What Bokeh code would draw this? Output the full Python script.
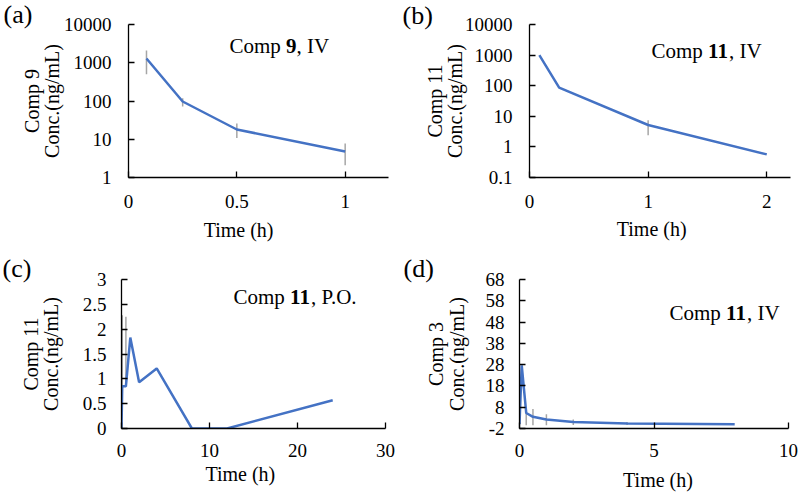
import math
from bokeh.plotting import figure
from bokeh.layouts import column, row
from bokeh.models import (Range1d, FixedTicker, CustomJSTickFormatter, Label, Title,
                          LinearAxis)
from bokeh.embed import file_html
from bokeh.resources import INLINE

# ---------------- data ----------------
a_time = [0.083, 0.25, 0.5, 1.0]
a_conc = [1290, 97, 18, 4.8]
a_hi = [2100, 118, 26, 7.7]
a_lo = [500, 72, 10.8, 2.1]
a_xticks = [0, 0.5, 1]
a_yticks = [1, 10, 100, 1000, 10000]

b_time = [0.083, 0.25, 1.0, 2.0]
b_conc = [1000, 87, 5.2, 0.57]
b_hi = [1000, 87, 7.4, 0.57]
b_lo = [1000, 87, 2.4, 0.57]
b_xticks = [0, 1, 2]
b_yticks = [0.1, 1, 10, 100, 1000, 10000]

c_time = [0, 0.083, 0.5, 1, 2, 4, 8, 12, 24]
c_conc = [0, 0.85, 0.85, 1.83, 0.93, 1.21, 0, 0, 0.57]
c_hi = [0, 2.28, 2.25, 1.83, 0.93, 1.21, 0, 0, 0.57]
c_lo = [0, 0.85, 0.85, 1.83, 0.93, 1.21, 0, 0, 0.57]
c_xticks = [0, 10, 20, 30]
c_yticks = [0, 0.5, 1, 1.5, 2, 2.5, 3]

d_time = [0, 0.083, 0.25, 0.5, 1, 2, 4, 8]
d_conc = [0, 27.7, 5.3, 3.5, 2.2, 1.1, 0.4, 0.05]
d_hi = [0, 27.7, 5.6, 7.2, 4.7, 2.2, 1.0, 0.05]
d_lo = [0, 27.7, -0.5, -0.5, -0.5, -0.4, -0.3, 0.05]
d_xticks = [0, 5, 10]
d_yticks = [-2, 8, 18, 28, 38, 48, 58, 68]

X_TITLE = "Time (h)"

FONT = "Liberation Serif"
BLUE = "#4472C4"
GREY = "#A6A6A6"


def lab(p, text, x, y, size="21px", style="normal"):
    p.add_layout(Label(x=x, y=y, x_units="screen", y_units="screen", text=text,
                       text_font=FONT, text_font_size=size, text_font_style=style,
                       text_align="left", text_baseline="alphabetic",
                       text_color="black"))


def panel(bl, br, bt, bb, xr, yr, xt, yt, log, xstand, ystand, ylabel, ylstand):
    p = figure(width=400, height=247, min_border_left=bl, min_border_right=br,
               min_border_top=bt, min_border_bottom=bb,
               x_range=Range1d(*xr), y_range=Range1d(*yr),
               y_axis_type="log" if log else "linear",
               output_backend="svg", toolbar_location=None, tools="")
    p.xgrid.visible = False
    p.ygrid.visible = False
    p.outline_line_color = None
    p.background_fill_color = "white"
    p.border_fill_color = "white"
    for ax in (p.xaxis[0], p.yaxis[0]):
        ax.axis_line_color = "black"
        ax.axis_line_width = 1.3
        ax.major_tick_line_color = "black"
        ax.major_tick_line_width = 1.3
        ax.major_tick_in = 6
        ax.major_tick_out = 0
        ax.minor_tick_line_color = None
        ax.major_label_text_font = FONT
        ax.major_label_text_font_size = "19px"
        ax.major_label_text_color = "black"
        ax.formatter = CustomJSTickFormatter(code="return tick.toString();")
    p.xaxis[0].ticker = FixedTicker(ticks=xt)
    p.yaxis[0].ticker = FixedTicker(ticks=yt)
    p.xaxis[0].major_label_standoff = xstand
    p.yaxis[0].major_label_standoff = ystand
    ya = p.yaxis[0]
    ya.axis_label = ylabel
    ya.axis_label_text_font = FONT
    ya.axis_label_text_font_size = "20px"
    ya.axis_label_text_font_style = "normal"
    ya.axis_label_text_color = "black"
    ya.axis_label_text_line_height = 0.92
    ya.axis_label_standoff = ylstand
    return p


def draw(p, t, c, hi, lo):
    p.segment(x0=t, y0=lo, x1=t, y1=hi, line_color=GREY, line_width=1.5)
    p.line(t, c, line_color=BLUE, line_width=2.5)


def title(p, x, y, num, tail, size=21):
    lab(p, "Comp", x, y, size=f"{size}px")
    w_comp = (0.667 + 0.5 + 0.778 + 0.5 + 0.25) * size
    lab(p, num, x + w_comp, y, size=f"{size}px", style="bold")
    lab(p, tail, x + w_comp + 0.5 * size * len(num), y, size=f"{size}px")


def letter(p, text, offset, standoff):
    p.add_layout(Title(text=text, align="left", offset=offset, standoff=standoff,
                       vertical_align="bottom", text_font=FONT,
                       text_font_size="26px", text_font_style="normal",
                       text_color="black"), "above")


def xtitle(p, text, center, standoff):
    # x-axis title drawn as the single label of a second, line-less bottom axis
    t_axis = LinearAxis(ticker=FixedTicker(ticks=[center]), axis_line_color=None,
                        major_tick_line_color=None, minor_tick_line_color=None,
                        major_tick_in=0, major_tick_out=0, minor_tick_in=0,
                        minor_tick_out=0, major_label_standoff=standoff,
                        major_label_text_font=FONT,
                        major_label_text_font_size="20px",
                        major_label_text_color="black",
                        formatter=CustomJSTickFormatter(code="return '%s';" % text))
    p.add_layout(t_axis, "below")


# (a)
p1 = panel(128, 12, 22, 70, (0, 1.2), (1, 10000), a_xticks, a_yticks, True, 17, 17,
           "Comp 9\nConc.(ng/mL)", -2)
draw(p1, a_time, a_conc, a_hi, a_lo)
letter(p1, "(a)", -125, -9)
title(p1, 101, 132, "9", ", IV")
xtitle(p1, X_TITLE, 0.508, 8)

# (b)
p2 = panel(129, 10, 24, 67, (0, 2.2), (0.1, 10000), b_xticks, b_yticks, True, 17, 17,
           "Comp 11\nConc.(ng/mL)", -4)
draw(p2, b_time, b_conc, b_hi, b_lo)
letter(p2, "(b)", -127, -11)
title(p2, 122, 127, "11", ", IV")
xtitle(p2, X_TITLE, 1.03, 7)

# (c)
p3 = panel(121, 15, 26, 65, (0, 30), (0, 3), c_xticks, c_yticks, False, 15, 15,
           "Comp 11\nConc.(ng/mL)", 18)
draw(p3, c_time, c_conc, c_hi, c_lo)
letter(p3, "(c)", -119, -7)
title(p3, 112, 132, "11", ", P.O.")
xtitle(p3, X_TITLE, 13.5, 3)

# (d)
p4 = panel(119, 12, 32, 66, (0, 10), (-2, 68), d_xticks, d_yticks, False, 15, 15,
           "Comp 3\nConc.(ng/mL)", 15)
draw(p4, d_time, d_conc, d_hi, d_lo)
letter(p4, "(d)", -116, -6)
title(p4, 150, 116, "11", ", IV")
xtitle(p4, X_TITLE, 5.15, 9)

layout = column(row(p1, p2), row(p3, p4))
open("out.html", "w").write(file_html(layout, INLINE))
